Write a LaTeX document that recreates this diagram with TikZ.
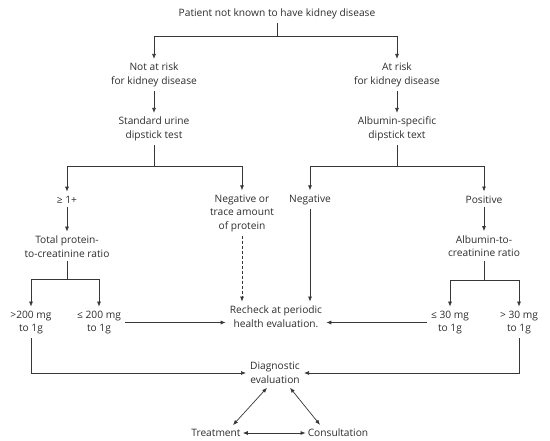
\documentclass[tikz,border=0pt]{standalone}
\usepackage{fontspec}
\setmainfont{Open Sans}
\usepackage{xcolor}
\usetikzlibrary{arrows.meta, positioning, calc}
\definecolor{flowline}{RGB}{55, 55, 55}
\definecolor{flowtext}{RGB}{45, 45, 45}
\tikzset{
  txt/.style={align=center, inner xsep=4pt, inner ysep=4pt, text=flowtext,
              font=\fontsize{10.2}{13.5}\selectfont},
  link/.style={line width=0.7pt, color=flowline},
  arrow/.style={-{Latex[length=5pt, width=4pt]}, line width=0.7pt, color=flowline},
  darrow/.style={{Latex[length=5pt, width=4pt]}-{Latex[length=5pt, width=4pt]},
                 line width=0.7pt, color=flowline},
}

\begin{document}
\begin{tikzpicture}[x=1pt, y=-1pt]
        \useasboundingbox (0,0) rectangle (550,441);
        % Entry and risk split
        \node[txt] (top) at (277, 14) {Patient not known to have kidney disease};
        \node[txt] (nrisk) at (154, 75) {Not at risk\\for kidney disease};
        \node[txt] (risk) at (397, 75) {At risk\\for kidney disease};
        \node[txt] (std) at (154, 129) {Standard urine\\dipstick test};
        \node[txt] (alb) at (397, 129) {Albumin-specific\\dipstick text};
        \coordinate (j0) at (277, 36);
        \draw[link] (top) -- (j0);
        \draw[arrow] (j0) -| (nrisk);
        \draw[arrow] (j0) -| (risk);
        \draw[arrow] (nrisk) -- (std);
        \draw[arrow] (risk) -- (alb);

        % Dipstick results
        \node[txt] (ge1) at (67, 199.5) {≥ 1+};
        \node[txt] (negtr) at (242, 213) {Negative or\\trace amount\\of protein};
        \node[txt] (neg) at (310, 199.5) {Negative};
        \node[txt] (pos) at (484, 199.5) {Positive};
        \coordinate (j1) at (154, 166);
        \coordinate (j2) at (397, 166);
        \draw[link] (std) -- (j1);
        \draw[arrow] (j1) -| (ge1);
        \draw[arrow] (j1) -| (negtr);
        \draw[link] (alb) -- (j2);
        \draw[arrow] (j2) -| (neg);
        \draw[arrow] (j2) -| (pos);

        % Ratios
        \node[txt] (tpcr) at (67, 246.5) {Total protein-\\to-creatinine ratio};
        \node[txt] (acr) at (484, 246) {Albumin-to-\\creatinine ratio};
        \draw[arrow] (ge1) -- (tpcr);
        \draw[arrow] (pos) -- (acr);

        % Thresholds
        \node[txt] (g200) at (31, 322.5) {>200 mg\\to 1g};
        \node[txt] (le200) at (99, 322.5) {≤ 200 mg\\to 1g};
        \node[txt] (recheck) at (276, 316.5) {Recheck at periodic\\health evaluation.};
        \node[txt] (le30) at (450, 322.5) {≤ 30 mg\\to 1g};
        \node[txt] (g30) at (519, 322.5) {> 30 mg\\to 1g};
        \coordinate (j3) at (67, 279);
        \coordinate (j4) at (484, 280);
        \draw[link] (tpcr) -- (j3);
        \draw[arrow] (j3) -| (g200);
        \draw[arrow] (j3) -| (le200);
        \draw[link] (acr) -- (j4);
        \draw[arrow] (j4) -| (le30);
        \draw[arrow] (j4) -| (g30);
        \draw[arrow, dash pattern=on 3pt off 2pt] (negtr) -- (negtr |- recheck.north);
        \draw[arrow] (neg) -- (neg |- recheck.north);
        \draw[arrow] (le200) -- (le200 -| recheck.west);
        \draw[arrow] (le30) -- (le30 -| recheck.east);

        % Diagnostic loop
        \node[txt] (diag) at (275, 373) {Diagnostic\\evaluation};
        \node[txt] (treat) at (216, 433) {Treatment};
        \node[txt] (consult) at (338, 433) {Consultation};
        \draw[arrow] (g200) |- (diag);
        \draw[arrow] (g30) |- (diag);
        \draw[darrow] ([xshift=-8pt]diag.south) -- ([xshift=17pt]treat.north);
        \draw[darrow] ([xshift=15pt]diag.south) -- ([xshift=-18pt]consult.north);
        \draw[darrow, shorten <=-2pt, shorten >=-2pt] (treat) -- (consult);
      \end{tikzpicture}
\end{document}
